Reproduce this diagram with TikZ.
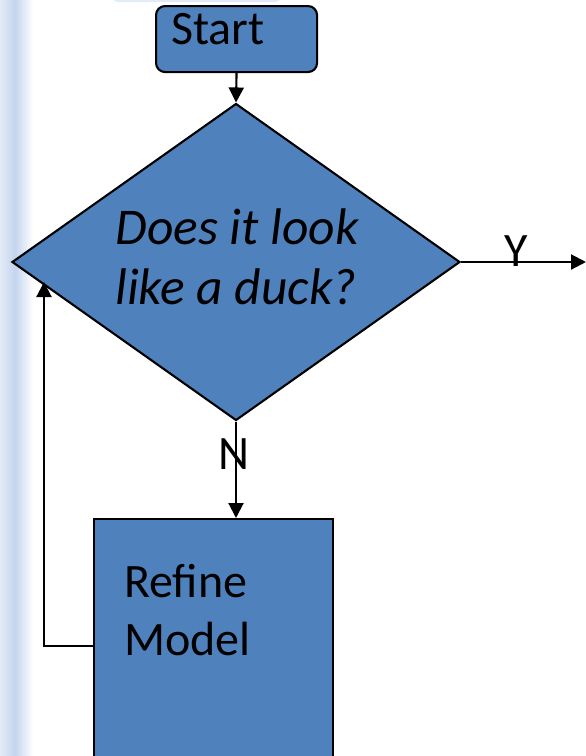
\documentclass[tikz,border=0pt]{standalone}
\usepackage{fontspec}
\setmainfont{Carlito}
\usetikzlibrary{arrows.meta,shapes.geometric}
\definecolor{boxblue}{HTML}{4F81BD}
\definecolor{edgeblue}{HTML}{C4D5EE}
\definecolor{paleblue}{HTML}{E2EBF7}
\tikzset{
  x=1pt, y=-1pt,
  shapeline/.style={draw=black, line width=2.1pt, fill=boxblue},
  conn/.style={draw=black, line width=2.1pt, -{Triangle[length=15pt,width=15pt]}},
  bigtext/.style={inner sep=0pt, font=\fontsize{48}{58}\selectfont},
  asktext/.style={inner sep=0pt, font=\fontsize{51.5}{60}\selectfont\itshape},
}
\begin{document}
\begin{tikzpicture}
  \useasboundingbox (0,0) rectangle (586,756);
  % slide edge band on the left
  \shade[left color=paleblue, right color=edgeblue] (0,0) rectangle (15,756);
  \shade[left color=edgeblue, right color=white] (15,0) rectangle (33,756);
  % sliver of a shape above the start box
  \fill[paleblue, rounded corners=4pt] (113,-12) rectangle (280,2);

  % start box
  \node[shapeline, rounded corners=9pt, anchor=north west,
        minimum width=161pt, minimum height=66pt] (start) at (155,5) {};
  \node[bigtext, anchor=base west] (starttxt) at (171,44) {Start};

  % decision
  \node[shapeline, diamond, inner sep=0pt, minimum width=448pt,
        minimum height=317pt] (decide) at (236,262) {};
  \node[asktext, anchor=base] (q1) at (237,244) {Does it look};
  \node[asktext, anchor=base] (q2) at (236,304) {like a duck?};

  % refine step, running past the bottom edge
  \node[shapeline, anchor=north west, minimum width=239pt,
        minimum height=260pt] (refine) at (93,518) {};
  \node[bigtext, anchor=base west] (r1) at (124,597) {Refine};
  \node[bigtext, anchor=base west] (r2) at (124,655) {Model};

  % connectors
  \coordinate (yend) at (586,262);
  \coordinate (loopcorner) at (44,646);
  \coordinate (looptip) at (44,282);
  \draw[conn] (start.south) -- (decide.north);
  \draw[conn] (decide.east) -- (yend);
  \draw[conn] (decide.south) -- (refine.north -| decide.south);
  \draw[conn] (refine.west |- loopcorner) -- (loopcorner) -- (looptip);

  % branch labels
  \node[bigtext, anchor=base] (ylbl) at (516,266) {Y};
  \node[bigtext, anchor=base] (nlbl) at (234,469) {N};
\end{tikzpicture}
\end{document}
